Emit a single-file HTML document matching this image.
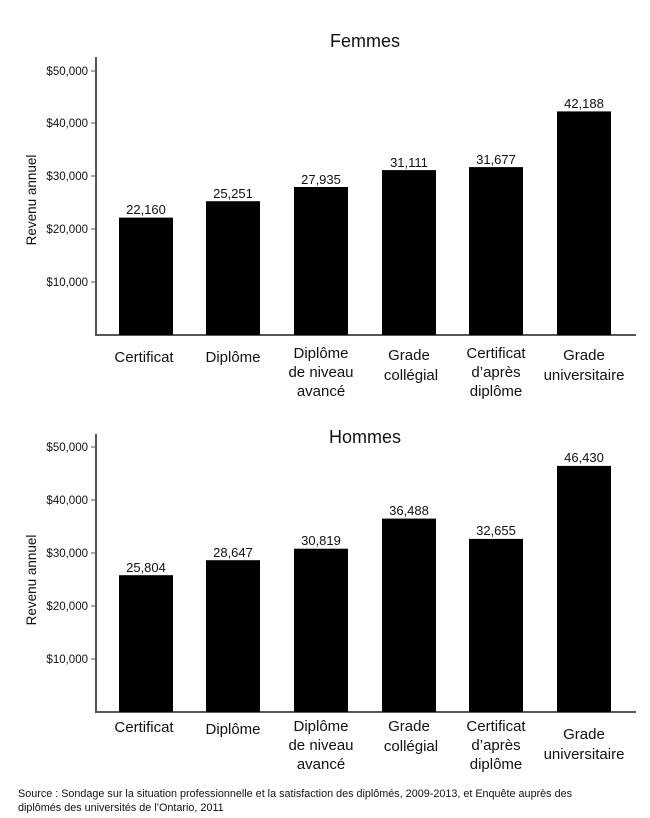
<!DOCTYPE html>
<html><head><meta charset="utf-8"><style>
body{margin:0;background:#fff}
text{font-family:"Liberation Sans",sans-serif;fill:#111}
</style></head><body>
<svg width="650" height="813" viewBox="0 0 650 813" xmlns="http://www.w3.org/2000/svg">
<g id="top">
<text x="365" y="47" font-size="18" text-anchor="middle">Femmes</text>
<line x1="96" y1="57" x2="96" y2="335" stroke="#555" stroke-width="2"/>
<line x1="95" y1="335" x2="636" y2="335" stroke="#555" stroke-width="2"/>
<g font-size="11.5" text-anchor="end">
<text x="88" y="75">$50,000</text><text x="88" y="127">$40,000</text><text x="88" y="180">$30,000</text><text x="88" y="233">$20,000</text><text x="88" y="286">$10,000</text></g>
<g stroke="#555"><line x1="91" y1="71" x2="96" y2="71"/><line x1="91" y1="123" x2="96" y2="123"/><line x1="91" y1="176" x2="96" y2="176"/><line x1="91" y1="229" x2="96" y2="229"/><line x1="91" y1="282" x2="96" y2="282"/></g>
<text transform="translate(36,200) rotate(-90)" font-size="13.5" text-anchor="middle">Revenu annuel</text>
<g fill="#000">
<rect x="119" y="217.6" width="54" height="117.4"/>
<rect x="206" y="201.2" width="54" height="133.8"/>
<rect x="294" y="187" width="54" height="148"/>
<rect x="382" y="170.1" width="54" height="164.9"/>
<rect x="469" y="167.1" width="54" height="167.9"/>
<rect x="557" y="111.4" width="54" height="223.6"/>
</g>
<g font-size="13" text-anchor="middle">
<text x="146" y="214">22,160</text><text x="233" y="198">25,251</text><text x="321" y="184">27,935</text><text x="409" y="167">31,111</text><text x="496" y="164">31,677</text><text x="584" y="108">42,188</text></g>
<g font-size="15" text-anchor="middle">
<text x="144" y="362">Certificat</text>
<text x="233" y="362">Diplôme</text>
<text x="321" y="358">Diplôme</text><text x="321" y="377">de niveau</text><text x="321" y="396">avancé</text>
<text x="409" y="360">Grade</text><text x="411" y="380">collégial</text>
<text x="496" y="358">Certificat</text><text x="496" y="377">d’après</text><text x="496" y="396">diplôme</text>
<text x="584" y="360">Grade</text><text x="584" y="380">universitaire</text>
</g>
</g>
<g id="bot">
<text x="365" y="443" font-size="18" text-anchor="middle">Hommes</text>
<line x1="96" y1="434" x2="96" y2="712" stroke="#555" stroke-width="2"/>
<line x1="95" y1="712" x2="636" y2="712" stroke="#555" stroke-width="2"/>
<g font-size="11.5" text-anchor="end">
<text x="88" y="451">$50,000</text><text x="88" y="504">$40,000</text><text x="88" y="557">$30,000</text><text x="88" y="610">$20,000</text><text x="88" y="663">$10,000</text></g>
<g stroke="#555"><line x1="91" y1="447" x2="96" y2="447"/><line x1="91" y1="500" x2="96" y2="500"/><line x1="91" y1="553" x2="96" y2="553"/><line x1="91" y1="606" x2="96" y2="606"/><line x1="91" y1="659" x2="96" y2="659"/></g>
<text transform="translate(36,580) rotate(-90)" font-size="13.5" text-anchor="middle">Revenu annuel</text>
<g fill="#000">
<rect x="119" y="575.2" width="54" height="136.8"/>
<rect x="206" y="560.2" width="54" height="151.8"/>
<rect x="294" y="548.7" width="54" height="163.3"/>
<rect x="382" y="518.6" width="54" height="193.4"/>
<rect x="469" y="538.9" width="54" height="173.1"/>
<rect x="557" y="465.9" width="54" height="246.1"/>
</g>
<g font-size="13" text-anchor="middle">
<text x="146" y="572">25,804</text><text x="233" y="557">28,647</text><text x="321" y="545">30,819</text><text x="409" y="515">36,488</text><text x="496" y="535">32,655</text><text x="584" y="462">46,430</text></g>
<g font-size="15" text-anchor="middle">
<text x="144" y="732">Certificat</text>
<text x="233" y="734">Diplôme</text>
<text x="321" y="731">Diplôme</text><text x="321" y="750">de niveau</text><text x="321" y="769">avancé</text>
<text x="409" y="731">Grade</text><text x="411" y="751">collégial</text>
<text x="496" y="731">Certificat</text><text x="496" y="750">d’après</text><text x="496" y="769">diplôme</text>
<text x="584" y="739">Grade</text><text x="584" y="759">universitaire</text>
</g>
</g>
<g font-size="10.8">
<text x="18" y="797" textLength="554" lengthAdjust="spacing">Source : Sondage sur la situation professionnelle et la satisfaction des diplômés, 2009-2013, et Enquête auprès des</text>
<text x="18" y="811">diplômés des universités de l’Ontario, 2011</text>
</g>
</svg>
</body></html>
